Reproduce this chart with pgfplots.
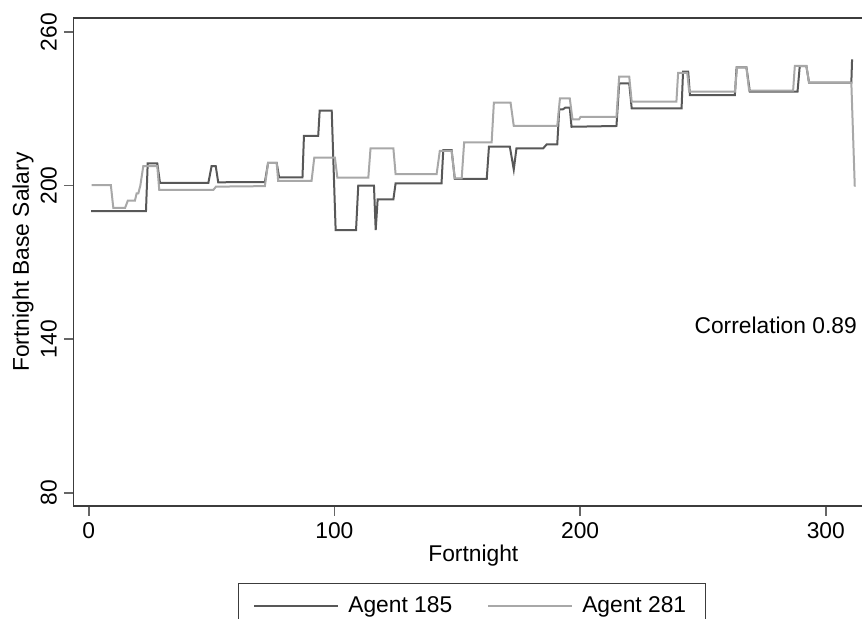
\documentclass[border=0pt]{standalone}
\usepackage{pgfplots}
\pgfplotsset{compat=1.18}
\usepackage{fontspec}
\setmainfont{Liberation Sans}
\definecolor{darkline}{RGB}{88,88,88}
\definecolor{lightline}{RGB}{168,168,168}
\definecolor{framec}{RGB}{60,60,60}
\newcommand{\fs}{\fontsize{11.4}{13.7}\selectfont}
\begin{document}
\begin{tikzpicture}
\begin{axis}[
  anchor=south west, at={(0,0)},
  scale only axis, width=398.25pt, height=244pt,
  xmin=-6.2, xmax=318, ymin=74.8, ymax=265.5,
  /pgf/number format/assume math mode=true,
  axis line style={draw=framec, line width=0.9pt},
  xtick={0,100,200,300}, ytick={80,140,200,260},
  tick align=outside, major tick length=4.75pt,
  tick style={draw=black!60, line width=0.8pt},
  xtick pos=bottom, ytick pos=left,
  ticklabel style={font=\fs},
  yticklabel style={rotate=90, anchor=south},
  label style={font=\fs},
  xlabel={Fortnight},
  ylabel={Fortnight Base Salary},
  xlabel style={at={(axis description cs:0.502,-0.1025)}, anchor=center},
  ylabel style={at={(axis description cs:-0.0635,0.5)}, anchor=center, rotate=0},
  legend columns=2,
  legend style={at={(axis description cs:0.5,-0.1578)}, anchor=north, font=\fs,
    draw=framec, line width=0.6pt, inner xsep=7.5pt, inner ysep=4.5pt,
    /tikz/every odd column/.append style={column sep=2.5pt},
    /tikz/every even column/.append style={column sep=15.5pt}},
  legend image code/.code={\draw[#1] (0pt,0pt) -- (42pt,0pt);},
]
\addplot[darkline, line width=1pt] coordinates {
(1,190) (23.3,190) (24,208.7) (27.9,208.7) (29,201.1) (48.7,201.1) (50,207.6) (51.7,207.6)
(52.7,201.3) (71.7,201.4) (73,208.9) (76.5,208.9) (77.5,203.2) (87,203.2) (87.6,219.4)
(93.4,219.4) (94,229.3) (98.9,229.3) (100.5,182.6) (108.8,182.6) (109.7,200) (116.1,200)
(116.8,182.6) (117.6,194.6) (124,194.6) (124.9,200.9) (143.6,200.9) (144.3,213.9)
(147.7,213.9) (149,202.6) (162,202.6) (162.9,215.2) (171.4,215.2) (173,206.3) (174.1,214.6)
(185,214.6) (186.4,216.1) (190.7,216.1) (191.5,229.8) (193,229.8) (194,230.5) (195.8,230.5)
(196.5,223) (214.8,223.3) (215.9,240) (220,240) (221,230.2) (241.3,230.2) (241.9,244.5)
(244,244.5) (244.7,235.4) (263,235.4) (263.7,246.2) (267.7,246.2) (269.1,236.7)
(288.5,236.7) (289.4,246.7) (292.1,246.7) (293.2,240.2) (310.4,240.2) (310.7,249.3)
};
\addlegendentry{Agent 185}
\addplot[lightline, line width=1pt] coordinates {
(1.2,200.2) (9,200.2) (10,191.3) (14.8,191.3) (15.9,194.1) (18.8,194.1) (19.5,197)
(20.2,197) (21,200) (22.2,207.6) (27.9,207.6) (28.7,198.3) (50.7,198.3) (51.8,199.6)
(71.7,199.8) (73,208.9) (76.5,208.9) (77.1,201.9) (90.7,201.9) (91.8,210.9) (100.2,210.9)
(101.2,203.1) (113.8,203.1) (114.7,214.6) (124,214.6) (124.9,204.5) (141.6,204.5)
(142.9,213.6) (147.7,213.6) (149,202.8) (151.8,202.8) (152.8,216.9) (164,216.9)
(164.9,232.4) (171.7,232.4) (173,223.3) (190.7,223.3) (191.8,234.1) (195.8,234.1)
(196.9,225.9) (199.6,225.9) (200.2,226.9) (214.8,226.9) (215.9,242.6) (220,242.6)
(221,232.8) (239.2,232.8) (239.9,244.1) (243.6,244.1) (244.4,236.7) (263,236.7)
(263.9,246.2) (267.7,246.2) (268.8,237.1) (286.7,237.1) (287.4,246.8) (292.1,246.8)
(293.2,240.2) (310.4,240.2) (311.8,199.6)
};
\addlegendentry{Agent 281}
\node[font=\fs] at (axis cs:279.6,145.5) {Correlation 0.89};
\end{axis}
\pgfresetboundingbox
\useasboundingbox (-36.75pt,-56pt) rectangle (394.25pt,253pt);
\end{tikzpicture}
\end{document}
